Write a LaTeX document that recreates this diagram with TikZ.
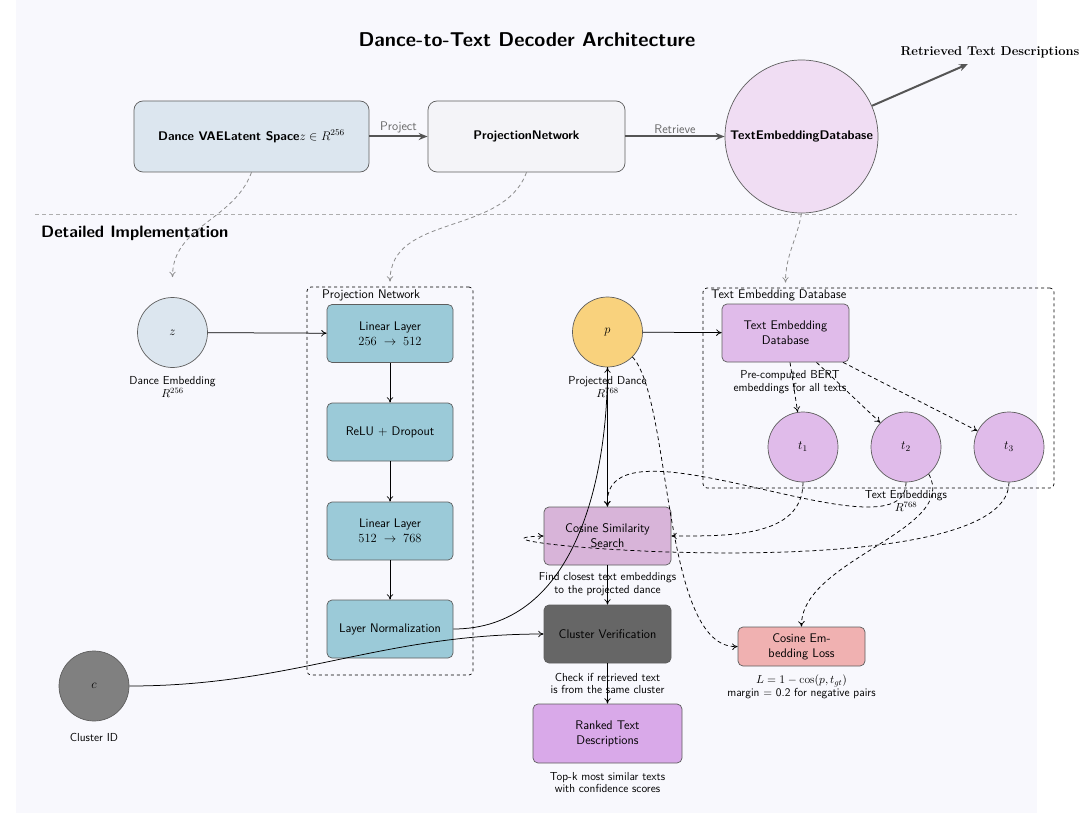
\documentclass[tikz,border=0pt]{standalone}
\usepackage{fix-cm}
\usepackage{fontspec}
\usetikzlibrary{arrows.meta,calc}
\definecolor{bgc}{HTML}{F8F8FD}
\definecolor{bordc}{HTML}{5E5E5E}
\definecolor{vaec}{HTML}{DCE6EF}
\definecolor{pnc}{HTML}{F4F4F8}
\definecolor{tedc}{HTML}{F0DDF3}
\definecolor{layerc}{HTML}{9BCAD8}
\definecolor{pc}{HTML}{F9D27D}
\definecolor{dbc}{HTML}{E0BBEA}
\definecolor{cosc}{HTML}{D8B4D9}
\definecolor{cvc}{HTML}{666666}
\definecolor{rankc}{HTML}{D9A9E9}
\definecolor{lossc}{HTML}{F0B1B1}
\definecolor{cc}{HTML}{808080}
\definecolor{arrc}{HTML}{555555}
\definecolor{lblc}{HTML}{666666}
\definecolor{gdash}{HTML}{8C8C8C}
\begin{document}
\begin{tikzpicture}[x=1pt,y=-1pt,
  >={To[length=5.5pt,width=6.5pt]},
  topbox/.style={draw=bordc, line width=0.7pt, rounded corners=9pt, minimum height=71pt, inner sep=0pt, font=\sffamily\bfseries\fontsize{12.5}{15}\selectfont},
  lbox/.style={draw=bordc, line width=0.7pt, rounded corners=5pt, minimum width=126pt, minimum height=58pt, inner sep=0pt, align=center, font=\sffamily\fontsize{12.5}{15}\selectfont},
  circ/.style={circle, draw=bordc, line width=0.7pt, minimum size=70pt, inner sep=0pt, font=\fontsize{12.5}{15}\selectfont},
  captxt/.style={align=center, inner sep=0pt, font=\sffamily\fontsize{11.6}{12.8}\selectfont},
  frmbox/.style={draw, dashed, line width=0.7pt, rounded corners=4pt, inner sep=0pt},
  framelbl/.style={anchor=west, inner sep=0pt, font=\sffamily\fontsize{12.5}{14}\selectfont},
  lbl/.style={text=lblc, font=\sffamily\fontsize{12.5}{14}\selectfont},
  bigarrow/.style={-{Stealth[length=9pt,width=7pt]}, line width=2pt, draw=arrc},
  conn/.style={->, line width=0.75pt},
  dconn/.style={->, line width=0.75pt, dash pattern=on 4pt off 3pt},
  gconn/.style={->, line width=0.8pt, draw=gdash, dash pattern=on 4pt off 3pt},
]
\useasboundingbox (0,0) rectangle (1090,813);
\fill[bgc] (16,0) rectangle (1037,813);

% ---------- top level ----------
\node[font=\sffamily\bfseries\fontsize{20}{24}\selectfont] (title) at (527,40) {Dance-to-Text Decoder Architecture};

\node[topbox, fill=vaec, minimum width=235pt] (vae) at (251.5,136.5) {Dance VAELatent Space$z \in R^{256}$};
\node[topbox, fill=pnc, minimum width=197pt] (pn) at (526.5,136.5) {ProjectionNetwork};
\node[circle, draw=bordc, line width=0.7pt, fill=tedc, minimum size=153pt, inner sep=0pt, font=\sffamily\bfseries\fontsize{12.5}{15}\selectfont] (ted) at (801.5,136.5) {TextEmbeddingDatabase};
\coordinate (rtdend) at (968,64);
\node[font=\rmfamily\bfseries\fontsize{12.9}{15}\selectfont, inner sep=0pt] (rtd) at (990,52) {Retrieved Text Descriptions};

\draw[bigarrow] (vae) -- node[above, lbl, yshift=-1pt] {Project} (pn);
\draw[bigarrow] (pn) -- node[above, lbl, yshift=-1pt] {Retrieve} (ted);
\draw[bigarrow] (ted) -- (rtdend);

\draw[gdash!70, line width=0.8pt, dash pattern=on 4pt off 3pt] (35,214) -- (1017,214);

\node[anchor=west, inner sep=0pt, font=\sffamily\bfseries\fontsize{16.5}{19}\selectfont] (detail) at (41,233) {Detailed Implementation};

% ---------- detailed ----------
\node[circ, fill=vaec] (z) at (172.5,332.5) {$z$};
\node[captxt] (zcap) at (172.5,387) {Dance Embedding\\$R^{256}$};

\node[frmbox, minimum width=166pt, minimum height=388pt] (pframe) at (390,481) {};
\node[framelbl] (pframelbl) at (322,295) {Projection Network};

\node[lbox, fill=layerc] (ll1) at (390,333.5) {Linear Layer\\$256\;\rightarrow\;512$};
\node[lbox, fill=layerc] (relu) at (390,432) {ReLU + Dropout};
\node[lbox, fill=layerc] (ll2) at (390,531) {Linear Layer\\$512\;\rightarrow\;768$};
\node[lbox, fill=layerc] (ln) at (390,629) {Layer Normalization};

\node[circ, fill=pc] (p) at (607.5,332) {$p$};
\node[captxt] (pcap) at (607.5,387) {Projected Dance\\$R^{768}$};

\node[frmbox, minimum width=351pt, minimum height=200pt] (tframe) at (878.5,388) {};
\node[framelbl] (tframelbl) at (711,295) {Text Embedding Database};

\node[lbox, fill=dbc, minimum width=127pt] (db) at (785.5,333) {Text Embedding\\Database};
\node[captxt] (dbcap) at (790,382.5) {Pre-computed BERT\\embeddings for all texts};

\node[circ, fill=dbc] (t1) at (803,447) {$t_1$};
\node[circ, fill=dbc] (t2) at (906,447) {$t_2$};
\node[circ, fill=dbc] (t3) at (1009,447) {$t_3$};
\node[captxt] (tcap) at (906,501) {Text Embeddings\\$R^{768}$};

\node[lbox, fill=cosc, minimum width=127pt] (cos) at (607.5,536) {Cosine Similarity\\Search};
\node[captxt] (coscap) at (607.5,584.5) {Find closest text embeddings\\to the projected dance};

\node[lbox, fill=cvc, minimum width=127pt] (cv) at (607.5,634) {Cluster Verification};
\node[captxt] (cvcap) at (607.5,683.5) {Check if retrieved text\\is from the same cluster};

\node[lbox, fill=rankc, minimum width=149pt, minimum height=59pt] (rank) at (607.5,733.5) {Ranked Text\\Descriptions};
\node[captxt] (rankcap) at (607.5,782.5) {Top-k most similar texts\\with confidence scores};

\node[lbox, fill=lossc, minimum width=127pt, minimum height=39pt, font=\sffamily\fontsize{12.5}{15}\selectfont] (loss) at (801.5,646.5) {Cosine Em-\\bedding Loss};
\node[captxt] (losscap) at (801.5,686.5) {$L = 1 - \cos(p, t_{gt})$\\margin = 0.2 for negative pairs};

\node[circ, fill=cc] (c) at (94,686) {$c$};
\node[captxt] (ccap) at (94,737) {Cluster ID};

% ---------- gray links from overview ----------
\coordinate (zin) at ($(z.north)+(0,-20)$);
\coordinate (pin) at ($(pframe.north)+(0,-5)$);
\coordinate (tin) at ($(db.north |- tframe.north)+(0,-5)$);
\draw[gconn] (vae.south) to[out=-110,in=90] (zin);
\draw[gconn] (pn.south) to[out=-110,in=90] (pin);
\draw[gconn] (ted.south) to[out=-100,in=90] (tin);

% ---------- connectors ----------
\draw[conn] (z) -- (ll1);
\draw[conn] (ll1) -- (relu);
\draw[conn] (relu) -- (ll2);
\draw[conn] (ll2) -- (ln);
\draw[conn] (p) -- (db);
\draw[conn] (ln.east) to[out=0,in=-90] (p.south);
\draw[conn] (p) -- (cos);
\draw[conn] (c.east) to[out=0,in=180] (cv.west);
\draw[conn] (cos) -- (cv);
\draw[conn] (cv) -- (rank);

\draw[dconn] (db) -- (t1);
\draw[dconn] (db) -- (t2);
\draw[dconn] (db) -- (t3);
\draw[dconn] (t1.south) to[out=-90,in=0] (cos.east);
\draw[dconn] (t2.south) .. controls (906,565) and (600,405) .. (cos.north);
\draw[dconn] (t3.south) .. controls (1009,595) and (410,540) .. (cos.west);
\draw[dconn] (t2.-50) .. controls (960,530) and (800,560) .. (loss.north);
\draw[dconn] (p.-45) .. controls (672,400) and (662,650) .. (loss.west);
\end{tikzpicture}
\end{document}
